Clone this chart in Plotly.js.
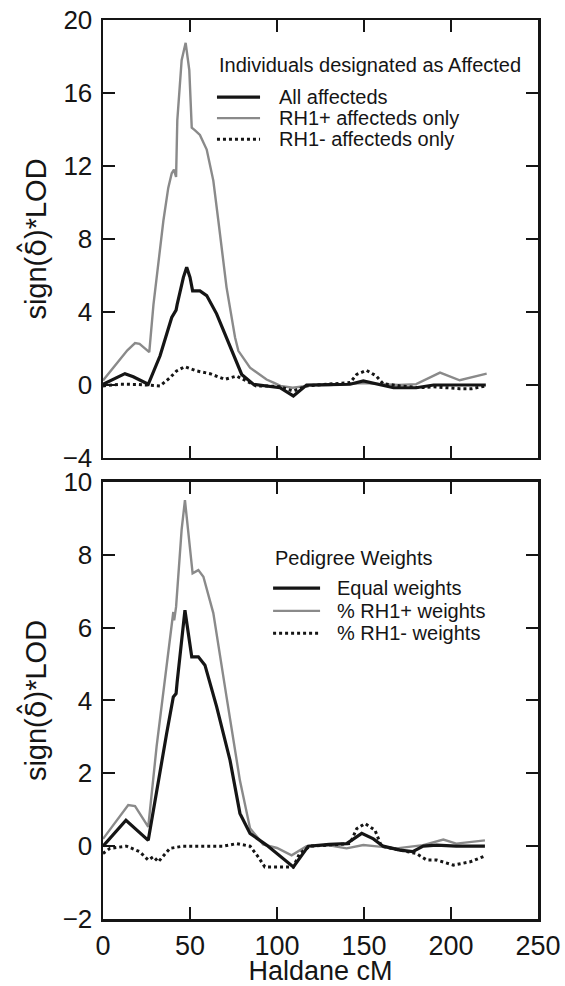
<!DOCTYPE html>
<html>
<head>
<meta charset="utf-8">
<script src="https://cdn.plot.ly/plotly-3.0.1.min.js"></script>
<style>html,body{margin:0;padding:0;background:#fff;}#chart{width:565px;height:986px;}</style>
</head>
<body>
<div id="chart"></div>
<script>
// ---------- Top panel: Individuals designated as Affected ----------
const topAllX = [0, 6, 12.6, 17.4, 26, 32.8, 39.5, 42, 42.6, 46.2, 48.1, 50, 51.5, 55.7, 59.6, 65.3, 73, 79.7, 86.4, 95, 101.7, 109.4, 117, 130, 142, 149.6, 157, 167, 180, 190, 200, 210, 220];
const topAllY = [0.04, 0.3, 0.62, 0.45, 0.04, 1.6, 3.7, 4.1, 4.4, 5.9, 6.45, 5.9, 5.16, 5.16, 4.9, 3.9, 2.14, 0.58, 0.04, -0.05, -0.15, -0.6, 0, 0.02, 0.04, 0.22, 0.07, -0.15, -0.15, 0, 0, 0, 0];

const topPosX = [0, 8, 14, 18.4, 21, 26.6, 29, 34.7, 37.5, 39.5, 40.8, 42, 42.7, 45.2, 47.5, 49.6, 51, 52.9, 55.7, 59.6, 63.4, 66.3, 71, 75.9, 77.8, 84.5, 90, 94, 98, 102, 109, 117, 130, 142, 150, 160, 170, 180, 193.7, 205, 220.5];
const topPosY = [0.25, 1.2, 1.9, 2.3, 2.25, 1.8, 4.4, 9.0, 10.8, 11.6, 11.8, 11.4, 14.5, 17.8, 18.75, 17.25, 14.1, 13.95, 13.7, 12.9, 11.2, 9.0, 5.35, 2.6, 1.87, 0.95, 0.6, 0.3, 0.13, -0.05, -0.15, -0.05, 0, 0.05, 0.1, 0.05, 0, 0.05, 0.68, 0.26, 0.62];

const topNegX = [0, 9.8, 20, 27, 32.8, 38.5, 42.3, 47, 53.8, 61.5, 70, 76.8, 82.6, 88, 95, 101.7, 109.4, 117, 130, 142, 145.8, 151.5, 157, 161, 170.7, 182, 190, 197.5, 205, 212, 220];
const topNegY = [-0.05, 0.04, 0.03, 0, -0.05, 0.4, 0.77, 1.0, 0.77, 0.62, 0.31, 0.49, 0.22, -0.05, -0.05, -0.1, -0.33, -0.05, 0.05, 0.13, 0.58, 0.8, 0.5, 0.07, -0.05, -0.15, -0.1, -0.15, -0.2, -0.2, -0.05];

// ---------- Bottom panel: Pedigree Weights ----------
const botEqX = [0, 13.2, 26, 31.8, 36.6, 40.4, 42, 42.6, 45.2, 47.1, 51, 54.8, 58.6, 65.3, 73, 78.7, 84.5, 94, 109.4, 118, 130, 140, 148.7, 155.4, 161, 170.7, 178, 184, 191.7, 203, 219.5];
const botEqY = [0, 0.71, 0.16, 1.8, 3.1, 4.1, 4.19, 4.5, 5.75, 6.48, 5.2, 5.2, 4.97, 3.83, 2.36, 0.9, 0.35, 0.03, -0.57, 0, 0.05, 0.07, 0.35, 0.2, 0, -0.11, -0.15, 0, 0.03, 0, 0];

const botPosX = [0, 14.5, 18.4, 26, 30.8, 38.5, 40.4, 40.9, 42, 45.2, 47.1, 51.5, 54.8, 57.7, 63.4, 71, 78.7, 84.5, 92, 100, 108.4, 117, 130, 140, 149.6, 156, 168.7, 184, 195.6, 203, 219.5];
const botPosY = [0.2, 1.13, 1.1, 0.53, 2.73, 5.75, 6.43, 6.2, 6.57, 8.7, 9.5, 7.49, 7.58, 7.4, 6.4, 4.1, 1.8, 0.49, 0.05, -0.05, -0.25, 0, 0.02, -0.06, 0.03, 0, -0.06, 0.03, 0.18, 0.07, 0.16];

const botNegX = [0, 4, 13.6, 21, 26, 29, 31.8, 38.5, 46, 60, 69, 76.8, 84.5, 89.3, 93, 100, 109.4, 113, 119, 130, 142, 145.8, 150.6, 156.3, 160, 170.7, 180, 186, 191.7, 201.3, 211, 219.5];
const botNegY = [-0.2, -0.06, 0, -0.15, -0.38, -0.29, -0.43, -0.06, 0, 0, 0, 0.07, 0, -0.3, -0.57, -0.57, -0.57, -0.2, 0, 0.03, 0.07, 0.48, 0.62, 0.44, 0, -0.11, -0.2, -0.38, -0.38, -0.52, -0.43, -0.27];

// ---------- Text ----------
const topLegendTitle = 'Individuals designated as Affected';
const topNames = ['All affecteds', 'RH1+ affecteds only', 'RH1- affecteds only'];
const botLegendTitle = 'Pedigree Weights';
const botNames = ['Equal weights', '% RH1+ weights', '% RH1- weights'];
const xTickVals = [0, 50, 100, 150, 200, 250];
const topYTicks = [-4, 0, 4, 8, 12, 16, 20];
const botYTicks = [-2, 0, 2, 4, 6, 8, 10];
const yTitle = 'sign(<span style="font-family:DejaVu Sans">\u03B4\u0302</span>)*LOD';
const xTitle = 'Haldane cM';

// ---------- Styles ----------
const FONT = 'Liberation Sans, Arial, Helvetica, sans-serif';
const INK = '#151515';
const lineAll = {color: INK, width: 3.2};
const linePos = {color: '#8a8a8a', width: 2.4};
const lineNeg = {color: INK, width: 3, dash: 'dot'};
const styles = [lineAll, linePos, lineNeg];

function tr(x, y, line, name, xa, ya) {
  return {x: x, y: y, type: 'scatter', mode: 'lines', line: line, name: name,
          xaxis: xa, yaxis: ya, showlegend: false, hoverinfo: 'skip'};
}

const data = [
  tr(topPosX, topPosY, linePos, topNames[1], 'x', 'y'),
  tr(topAllX, topAllY, lineAll, topNames[0], 'x', 'y'),
  tr(topNegX, topNegY, lineNeg, topNames[2], 'x', 'y'),
  tr(botPosX, botPosY, linePos, botNames[1], 'x2', 'y2'),
  tr(botEqX, botEqY, lineAll, botNames[0], 'x2', 'y2'),
  tr(botNegX, botNegY, lineNeg, botNames[2], 'x2', 'y2')
];

// custom legends (keys + labels), positioned in axis-domain fractions
const annotations = [];
const shapes = [];
function legend(xr, yr, title, names, tx, ty, lx0, lx1, txtx, ys) {
  annotations.push({xref: xr, yref: yr, x: tx, y: ty, text: title, showarrow: false,
    xanchor: 'left', yanchor: 'middle', font: {family: FONT, size: 20, color: INK}});
  names.forEach(function (n, i) {
    const st = styles[i];
    shapes.push({type: 'line', xref: xr, yref: yr, x0: lx0, x1: lx1, y0: ys[i], y1: ys[i],
      line: {color: st.color, width: st.width, dash: st.dash || 'solid'}});
    annotations.push({xref: xr, yref: yr, x: txtx, y: ys[i], text: n, showarrow: false,
      xanchor: 'left', yanchor: 'middle', font: {family: FONT, size: 20, color: INK}});
  });
}
legend('x domain', 'y domain', topLegendTitle, topNames, 0.262, 0.897, 0.262, 0.361, 0.40, [0.824, 0.776, 0.728]);
legend('x2 domain', 'y2 domain', botLegendTitle, botNames, 0.391, 0.826, 0.391, 0.499, 0.533, [0.757, 0.705, 0.654]);

const axisCommon = {
  showline: true, linecolor: INK, linewidth: 2.5, mirror: 'ticks',
  ticks: 'inside', ticklen: 12, tickwidth: 2, tickcolor: INK,
  showgrid: false, zeroline: false, tickfont: {family: FONT, size: 26, color: INK}
};

const layout = {
  width: 565, height: 986,
  margin: {l: 103, r: 27, t: 20, b: 67},
  paper_bgcolor: '#fff', plot_bgcolor: '#fff',
  showlegend: false,
  xaxis: Object.assign({}, axisCommon, {range: [0, 250], tickvals: xTickVals, showticklabels: false,
    domain: [0, 1], anchor: 'y'}),
  yaxis: Object.assign({}, axisCommon, {range: [-4, 20], tickvals: topYTicks, domain: [0.5128, 1],
    anchor: 'x', ticklabelstandoff: 3,
    title: {text: yTitle, standoff: 8, font: {family: FONT, size: 29, color: INK}}}),
  xaxis2: Object.assign({}, axisCommon, {range: [0, 250], tickvals: xTickVals, domain: [0, 1], anchor: 'y2',
    tickfont: {family: FONT, size: 27, color: INK}, ticklabelstandoff: 1,
    title: {text: xTitle, standoff: 2, font: {family: FONT, size: 27, color: INK}}}),
  yaxis2: Object.assign({}, axisCommon, {range: [-2, 10], tickvals: botYTicks, domain: [0, 0.4861],
    anchor: 'x2', ticklabelstandoff: 3,
    title: {text: yTitle, standoff: 8, font: {family: FONT, size: 29, color: INK}}}),
  annotations: annotations,
  shapes: shapes
};

Plotly.newPlot('chart', data, layout, {displayModeBar: false, staticPlot: true});
</script>
</body>
</html>
